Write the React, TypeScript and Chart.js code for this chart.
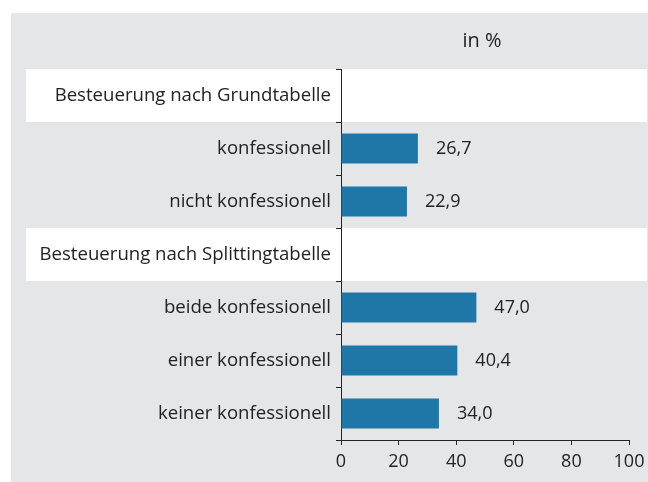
import React, { useEffect, useRef } from "react";
import { Chart, registerables } from "chart.js";

Chart.register(...registerables);

const categories: string[] = [
  "Besteuerung nach Grundtabelle",
  "konfessionell",
  "nicht konfessionell",
  "Besteuerung nach Splittingtabelle",
  "beide konfessionell",
  "einer konfessionell",
  "keiner konfessionell",
];
const headerRows: number[] = [0, 3];
const values: (number | null)[] = [null, 26.7, 22.9, null, 47.0, 40.4, 34.0];
const xTicks: number[] = [0, 20, 40, 60, 80, 100];
const unitLabel = "in %";

const FONT = "'Open Sans', sans-serif";
const TEXT = "#222222";
const BG = "#e5e6e8";
const BAR = "#1f77a8";

export default function App() {
  const ref = useRef<HTMLCanvasElement | null>(null);

  useEffect(() => {
    if (!ref.current) return;

    const bgPlugin = {
      id: "bgBands",
      beforeDraw(chart: any) {
        const { ctx } = chart;
        const y = chart.scales.y;
        ctx.save();
        ctx.fillStyle = BG;
        ctx.fillRect(11, 13, chart.width - 11, chart.height - 13);
        const step = y.getPixelForValue(1) - y.getPixelForValue(0);
        ctx.fillStyle = "#ffffff";
        headerRows.forEach((i) => {
          const c = y.getPixelForValue(i);
          ctx.fillRect(26, c - step / 2, chart.width - 27, step);
        });
        ctx.restore();
      },
    };

    const labelPlugin = {
      id: "valueLabels",
      afterDatasetsDraw(chart: any) {
        const { ctx, chartArea } = chart;
        ctx.save();
        ctx.font = `18px ${FONT}`;
        ctx.fillStyle = TEXT;
        ctx.textAlign = "left";
        ctx.textBaseline = "middle";
        const meta = chart.getDatasetMeta(0);
        meta.data.forEach((bar: any, i: number) => {
          const v = values[i];
          if (v == null) return;
          ctx.fillText(v.toFixed(1).replace(".", ","), bar.x + 18, bar.y);
        });
        ctx.font = `20px ${FONT}`;
        ctx.textAlign = "center";
        ctx.fillText(unitLabel, (chartArea.left + chartArea.right) / 2 - 3, chartArea.top - 28);
        ctx.restore();
      },
    };

    const chart = new Chart(ref.current, {
      type: "bar",
      data: {
        labels: categories,
        datasets: [
          {
            data: values as any,
            backgroundColor: BAR,
            categoryPercentage: 1,
            barPercentage: 0.57,
          },
        ],
      },
      options: {
        indexAxis: "y",
        animation: false,
        responsive: false,
        events: [],
        layout: { padding: { top: 69, right: 19, left: 0, bottom: 0 } },
        plugins: {
          legend: { display: false },
          title: { display: false },
          tooltip: { enabled: false },
        },
        scales: {
          x: {
            min: 0,
            max: 100,
            afterBuildTicks(scale: any) {
              scale.ticks = xTicks.map((v) => ({ value: v }));
            },
            afterFit(scale: any) {
              scale.height = 42;
              scale.paddingLeft = 0;
              scale.paddingRight = 0;
            },
            ticks: {
              font: { family: FONT, size: 18 },
              color: TEXT,
              padding: 6,
              maxRotation: 0,
            },
            grid: {
              drawOnChartArea: false,
              drawTicks: true,
              tickLength: 5,
              color: TEXT,
            },
            border: { display: true, color: TEXT, width: 1 },
          },
          y: {
            afterFit(scale: any) {
              scale.width = 341;
              scale.paddingTop = 0;
              scale.paddingBottom = 0;
            },
            ticks: {
              font: { family: FONT, size: 18.6 },
              color: TEXT,
              padding: 5,
              autoSkip: false,
            },
            grid: {
              offset: true,
              drawOnChartArea: false,
              drawTicks: true,
              tickLength: 5,
              color: TEXT,
            },
            border: { display: true, color: TEXT, width: 1 },
          },
        },
      },
      plugins: [bgPlugin, labelPlugin],
    });

    return () => chart.destroy();
  }, []);

  return (
    <div style={{ position: "absolute", left: 0, top: 0, width: 648, height: 482 }}>
      <canvas ref={ref} width={648} height={482} style={{ display: "block" }} />
    </div>
  );
}
